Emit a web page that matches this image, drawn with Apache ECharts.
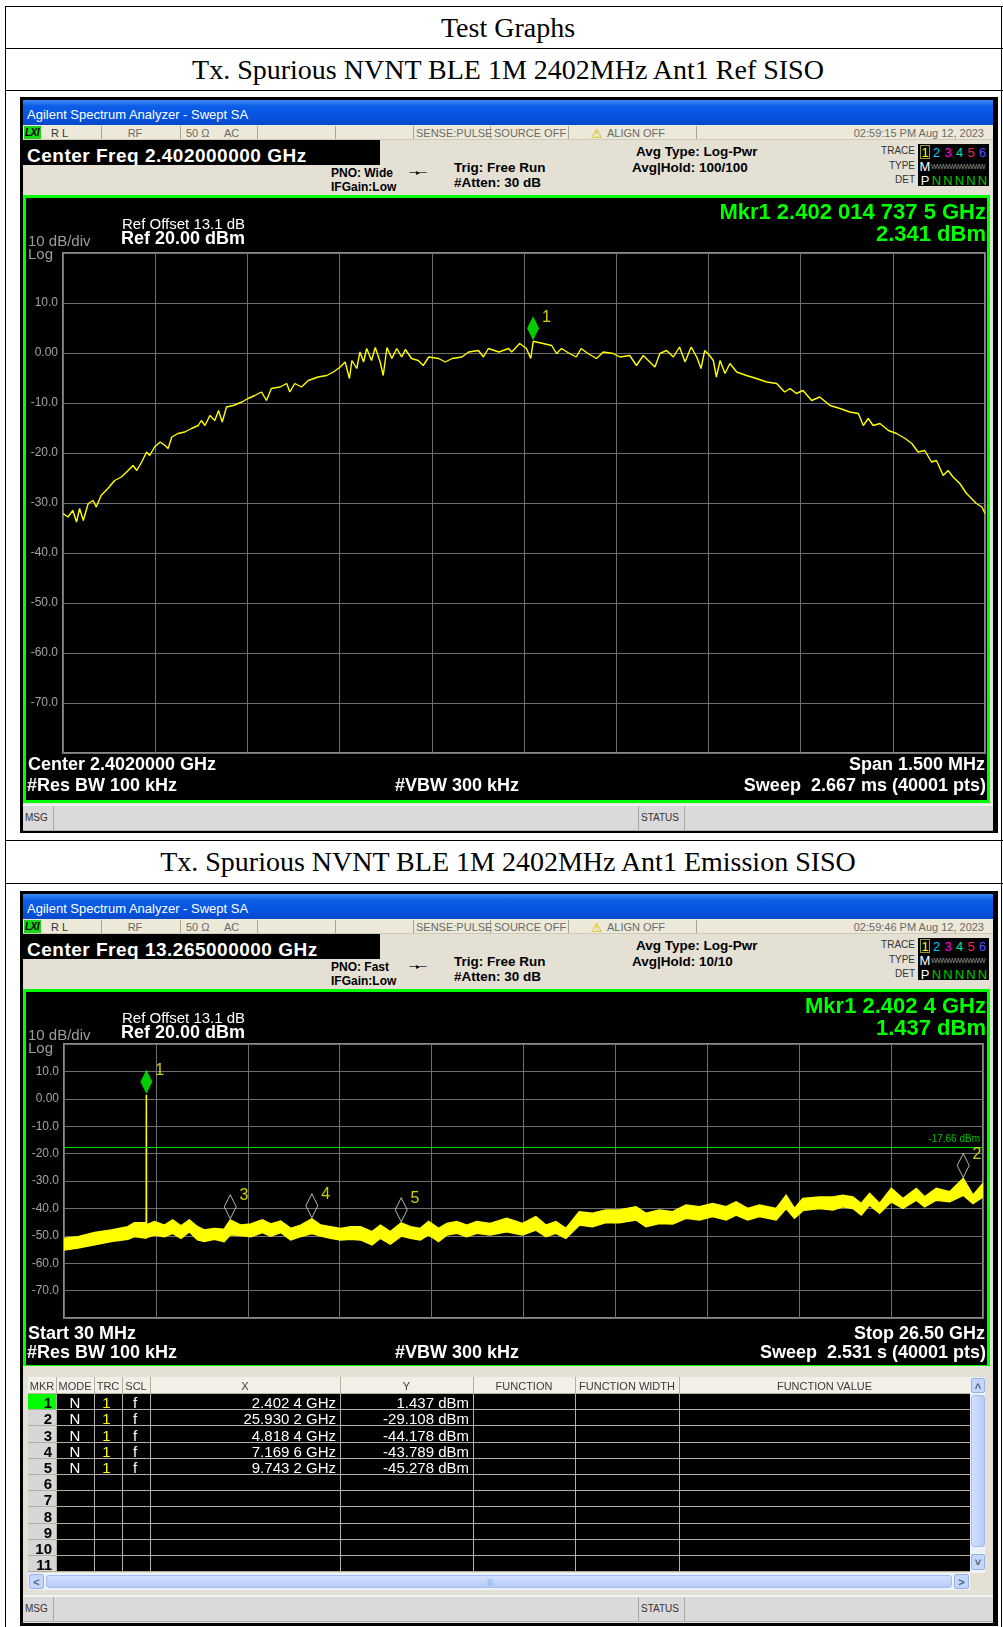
<!DOCTYPE html>
<html>
<head>
<meta charset="utf-8">
<title>Tx. Spurious NVNT BLE 1M 2402MHz Ant1</title>
<script src="https://cdn.jsdelivr.net/npm/echarts@6/dist/echarts.min.js"></script>
<style>
  html, body { margin: 0; padding: 0; background: #fff; }
  #page { position: relative; width: 1003px; height: 1627px; overflow: hidden; font-family: "Liberation Sans", Arial, sans-serif; }
  .b { position: absolute; box-sizing: border-box; }
  .t { position: absolute; white-space: pre; line-height: 1; z-index: 5; }
  .plot { position: absolute; z-index: 2; }
</style>
</head>
<body>
<div id="page">
  <div id="chart1" class="plot" style="left:26px;top:198px;width:961px;height:602px"></div>
  <div id="chart2" class="plot" style="left:26px;top:994px;width:961px;height:371px"></div>
</div>
<script>
// Ref plot: centre 2402 MHz, span 1.5 MHz (freq MHz / level dBm)
var refFreqMHz = [
    2401.250, 2401.258, 2401.266, 2401.272, 2401.277, 2401.283, 2401.291, 2401.299, 2401.304, 2401.312,
    2401.323, 2401.334, 2401.345, 2401.356, 2401.364, 2401.370, 2401.378, 2401.386, 2401.391, 2401.399,
    2401.408, 2401.416, 2401.421, 2401.427, 2401.437, 2401.448, 2401.459, 2401.470, 2401.475, 2401.481,
    2401.489, 2401.497, 2401.503, 2401.509, 2401.516, 2401.527, 2401.541, 2401.551, 2401.562, 2401.573,
    2401.581, 2401.589, 2401.603, 2401.614, 2401.619, 2401.627, 2401.638, 2401.649, 2401.665, 2401.679,
    2401.690, 2401.701, 2401.709, 2401.716, 2401.720, 2401.728, 2401.733, 2401.739, 2401.744, 2401.752,
    2401.758, 2401.766, 2401.771, 2401.777, 2401.785, 2401.793, 2401.801, 2401.807, 2401.817, 2401.828,
    2401.836, 2401.845, 2401.861, 2401.872, 2401.883, 2401.899, 2401.910, 2401.926, 2401.934, 2401.942,
    2401.959, 2401.975, 2401.980, 2401.993, 2402.004, 2402.011, 2402.015, 2402.031, 2402.045, 2402.053,
    2402.061, 2402.074, 2402.085, 2402.093, 2402.104, 2402.118, 2402.129, 2402.145, 2402.156, 2402.172,
    2402.183, 2402.194, 2402.213, 2402.221, 2402.232, 2402.243, 2402.253, 2402.262, 2402.272, 2402.281,
    2402.288, 2402.294, 2402.302, 2402.308, 2402.313, 2402.319, 2402.327, 2402.335, 2402.346, 2402.362,
    2402.378, 2402.395, 2402.411, 2402.424, 2402.433, 2402.443, 2402.454, 2402.468, 2402.481, 2402.498,
    2402.514, 2402.530, 2402.544, 2402.552, 2402.560, 2402.568, 2402.579, 2402.593, 2402.606, 2402.620,
    2402.631, 2402.641, 2402.652, 2402.663, 2402.671, 2402.682, 2402.690, 2402.698, 2402.709, 2402.720,
    2402.728, 2402.736, 2402.745, 2402.750
];
var refLevel = [
    -32.1, -32.8, -31.5, -33.8, -31.1, -33.5, -30.1, -29.5, -30.8, -28.5,
    -27.1, -25.5, -24.8, -23.5, -22.5, -23.5, -21.8, -19.8, -20.5, -18.8,
    -17.8, -18.5, -19.1, -16.8, -16.1, -15.8, -15.1, -14.5, -13.5, -14.5,
    -12.5, -13.5, -11.5, -13.8, -10.8, -10.5, -9.8, -9.1, -8.5, -7.8,
    -9.5, -7.1, -6.8, -6.1, -7.8, -6.1, -6.8, -5.5, -4.8, -4.5,
    -3.8, -2.8, -1.8, -5.1, -1.5, -3.1, 0.2, -1.8, 0.9, -1.5,
    1.1, -1.8, -4.5, 1.1, -1.1, 0.9, -0.8, 0.7, -1.1, -1.5,
    -2.5, -0.8, -1.1, -1.8, -1.1, -0.8, 0.2, 0.5, -0.8, 0.9,
    0.2, 0.9, 0.2, 1.9, 0.9, -1.1, 2.341, 1.9, 1.5, -0.1,
    0.9, -0.1, -0.8, 0.9, -0.1, -1.1, 0.2, -0.1, -0.8, -0.5,
    -2.5, -0.5, -2.8, -0.1, 0.5, -0.8, 1.2, -1.8, 1.2, -0.8,
    -3.1, 0.5, -0.5, -1.5, -4.8, -1.5, -4.1, -2.1, -3.8, -4.5,
    -5.1, -5.8, -6.1, -7.8, -7.1, -8.1, -7.5, -9.5, -8.8, -10.5,
    -11.1, -11.8, -12.1, -14.5, -13.1, -14.5, -14.1, -15.5, -16.1, -17.1,
    -18.1, -19.8, -19.5, -21.8, -21.5, -24.5, -23.5, -24.8, -26.1, -28.1,
    -29.1, -30.1, -30.8, -32.1
];
var refMkrFreqGHz = 2.4020147375;
var refMkrLevel = 2.341;

// Emission plot: 30 MHz - 26.5 GHz, trace drawn as a band (upper / lower edge, dBm)
var emiFreqGHz = [
    0.030, 0.432, 0.911, 1.389, 1.868, 2.059, 2.395, 2.398, 2.4024, 2.407,
    2.634, 2.921, 3.160, 3.400, 3.639, 3.878, 4.070, 4.357, 4.644, 4.818,
    5.123, 5.410, 5.745, 5.984, 6.272, 6.559, 6.846, 7.170, 7.420, 7.708,
    7.995, 8.282, 8.569, 8.904, 9.143, 9.431, 9.743, 10.005, 10.292, 10.531,
    10.819, 11.058, 11.345, 11.632, 11.919, 12.302, 12.781, 13.236, 13.621, 13.909,
    14.197, 14.486, 14.870, 15.255, 15.639, 16.024, 16.504, 16.793, 17.177, 17.562,
    17.946, 18.331, 18.715, 19.100, 19.388, 19.724, 20.061, 20.541, 20.830, 21.070,
    21.310, 21.791, 22.176, 22.464, 22.753, 22.993, 23.233, 23.521, 23.858, 24.194,
    24.579, 24.819, 25.155, 25.540, 25.930, 26.212, 26.500
];
var emiUpper = [
    -50.9, -50.3, -48.8, -47.9, -46.7, -45.2, -45.2, -46.0, 1.437, -46.0,
    -44.8, -46.1, -44.2, -46.4, -44.2, -46.7, -47.9, -47.3, -47.6, -44.2,
    -46.1, -45.7, -44.2, -45.7, -44.6, -47.3, -46.1, -43.8, -46.1, -46.7,
    -47.3, -46.7, -46.7, -48.5, -46.1, -48.5, -45.3, -46.7, -47.3, -44.8,
    -47.3, -45.5, -44.8, -46.1, -44.8, -45.5, -43.6, -45.5, -43.0, -46.1,
    -44.8, -47.3, -41.2, -41.8, -40.6, -40.6, -39.4, -41.8, -40.6, -41.2,
    -38.8, -39.4, -38.2, -39.4, -37.6, -40.0, -38.8, -40.0, -35.2, -40.0,
    -36.4, -35.8, -35.8, -35.2, -35.8, -38.2, -34.5, -38.2, -32.7, -36.4,
    -32.7, -35.8, -32.7, -33.9, -29.1, -35.2, -30.9
];
var emiLower = [
    -55.2, -54.5, -53.3, -52.1, -51.3, -50.3, -50.9, -50.6, -50.6, -50.6,
    -49.7, -50.3, -49.1, -50.9, -48.5, -51.5, -52.1, -51.3, -52.1, -49.6,
    -49.9, -50.3, -48.8, -50.1, -48.8, -51.5, -50.3, -49.2, -50.1, -50.9,
    -51.5, -51.3, -51.5, -53.3, -50.9, -53.0, -50.1, -50.9, -51.5, -49.7,
    -52.1, -49.7, -49.1, -50.3, -49.1, -49.7, -48.5, -49.7, -47.9, -50.3,
    -49.1, -50.9, -46.1, -46.7, -45.2, -45.2, -44.2, -46.7, -45.5, -45.7,
    -43.6, -44.2, -43.0, -44.2, -42.4, -44.2, -43.0, -44.2, -40.0, -43.6,
    -40.8, -40.0, -40.6, -39.4, -40.0, -42.4, -38.8, -41.8, -37.6, -40.0,
    -37.0, -39.4, -37.0, -37.6, -35.2, -38.2, -35.8
];

// marker table of the emission sweep
var mkrFreqGHz = [2.4024, 25.9302, 4.8184, 7.1696, 9.7432];
var mkrLevel = [1.437, -29.108, -44.178, -43.789, -45.278];
var limitLine = -17.66;

// level axis (top and bottom lines have no label)
var levelTicks = [20, 10, 0, -10, -20, -30, -40, -50, -60, -70, -80];
var levelTickLabels = ['', '10.0', '0.00', '-10.0', '-20.0', '-30.0', '-40.0', '-50.0', '-60.0', '-70.0', ''];

var page = document.getElementById('page');

function box(x, y, w, h, css) {
    var d = document.createElement('div');
    d.className = 'b';
    d.style.cssText = 'left:' + x + 'px;top:' + y + 'px;width:' + w + 'px;height:' + h + 'px;' + (css || '');
    page.appendChild(d);
    return d;
}

// y is the vertical centre of the text
function txt(s, x, y, css, align) {
    var d = document.createElement('div');
    d.className = 't';
    d.textContent = s;
    d.style.cssText = 'left:' + x + 'px;top:' + y + 'px;' + (css || '');
    var tx = align === 'r' ? '-100%' : (align === 'c' ? '-50%' : '0');
    d.style.transform = 'translate(' + tx + ',-50%)';
    page.appendChild(d);
    return d;
}

function fmtGHz(f) {
    var s = f.toFixed(4);
    return s.slice(0, -1) + ' ' + s.slice(-1) + ' GHz';
}

function fmtLongGHz(f) {
    var s = f.toFixed(10);
    return s.slice(0, 5) + ' ' + s.slice(5, 8) + ' ' + s.slice(8, 11) + ' ' + s.slice(11) + ' GHz';
}

// ---- outer document table ----
function drawTable() {
    [6, 48, 90, 840, 883].forEach(function (y) {
        box(5, y, 998, 1.4, 'background:#000');
    });
    box(5, 6, 1.4, 1621, 'background:#000');
    box(1001, 6, 1.4, 1621, 'background:#000');
    var hd = 'font-family:"Liberation Serif","Times New Roman",serif;font-size:28px;color:#000';
    txt('Test Graphs', 508, 28, hd, 'c');
    txt('Tx. Spurious NVNT BLE 1M 2402MHz Ant1 Ref SISO', 508, 70, hd, 'c');
    txt('Tx. Spurious NVNT BLE 1M 2402MHz Ant1 Emission SISO', 508, 862, hd, 'c');
}

// ---- analyzer window chrome ----
function analyzer(top, bottom, c) {
    box(20, top, 978, bottom - top, 'background:#000');
    box(23, top + 3, 970, bottom - top - 6, 'background:#e4e1d4');
    // title bar
    box(23, top + 3, 970, 25, 'background:linear-gradient(#3d88f3,#0c5de8 25%,#0553e0 70%,#0849c9)');
    txt('Agilent Spectrum Analyzer - Swept SA', 27, top + 17, 'color:#fff;font-size:13px');

    // status row
    var sy = top + 35.5;
    var grey = 'font-size:11px;color:#6a6a6a';
    box(23, top + 28, 970, 15, 'background:#ece9d8;border-bottom:1px solid #cfcbb8');
    box(24, top + 29, 17, 13, 'background:#19d419');
    txt('LXI', 25, sy, 'font-size:10px;font-weight:bold;font-style:italic;color:#000;letter-spacing:-0.5px');
    txt('R L', 51, sy, 'font-size:11px;color:#333');
    [101, 180, 257, 335, 413, 490, 568, 696].forEach(function (x) {
        box(x, top + 29, 1, 13, 'background:#a8a596');
    });
    txt('RF', 135, sy, grey, 'c');
    txt('50 \u03a9', 186, sy, grey);
    txt('AC', 224, sy, grey);
    txt('SENSE:PULSE', 416, sy, grey);
    txt('SOURCE OFF', 494, sy, grey);
    txt('\u26a0', 591, sy, 'font-size:13px;color:#d9b800;font-family:"DejaVu Sans"');
    txt('ALIGN OFF', 607, sy, grey);
    txt(c.time, 984, sy, grey, 'r');

    // centre frequency + settings
    box(23, top + 43, 357, 25, 'background:#000');
    txt('Center Freq ' + c.cf, 27, top + 58, 'color:#fff;font-size:19px;font-weight:bold;letter-spacing:0.5px');
    var bold = 'color:#000;font-weight:bold;';
    txt(c.pno, 331, top + 76, bold + 'font-size:12px');
    txt('IFGain:Low', 331, top + 90, bold + 'font-size:12px');
    txt('\u2014\u25b8\u2014', 409, top + 76, 'font-size:8px;color:#000;font-family:"DejaVu Sans";letter-spacing:-1px');
    txt('Trig: Free Run', 454, top + 71, bold + 'font-size:13.5px');
    txt('#Atten: 30 dB', 454, top + 86, bold + 'font-size:13.5px');
    txt('Avg Type: Log-Pwr', 636, top + 55, bold + 'font-size:13.5px');
    txt(c.hold, 632, top + 71, bold + 'font-size:13.5px');

    // trace / type / det block
    var small = 'font-size:10px;color:#333';
    txt('TRACE', 915, top + 54, small, 'r');
    txt('TYPE', 915, top + 69, small, 'r');
    txt('DET', 915, top + 83, small, 'r');
    box(918, top + 47, 71, 42, 'background:#000');
    box(920, top + 48, 10, 14, 'border:1px solid #9a9a30');
    var tcol = ['#ffff00', '#00c8ff', '#ff00ff', '#00e0a0', '#ff2050', '#5050ff'];
    var tx = [925, 936.5, 948, 959.5, 971, 982.5];
    tcol.forEach(function (col, i) {
        txt(String(i + 1), tx[i], top + 55, 'font-size:13px;color:' + col, 'c');
    });
    txt('M', 925, top + 69, 'font-size:13px;color:#fff', 'c');
    txt('WWWWWWWWW', 931, top + 69, 'font-size:7px;color:#9a9a9a;letter-spacing:-0.6px');
    txt('P', 925, top + 83, 'font-size:13px;color:#fff', 'c');
    for (var k = 1; k < 6; k++) {
        txt('N', tx[k], top + 83, 'font-size:13px;color:#00c800', 'c');
    }

    // plot frame
    box(23, top + 98, 967, c.plotH, 'border:3px solid #00ff00;background:#000');
    txt('Ref Offset 13.1 dB', 122, top + 126, 'color:#fff;font-size:15px');
    txt('Ref 20.00 dBm', 121, top + 141, 'color:#fff;font-size:18px;font-weight:bold');
    txt('10 dB/div', 28, top + 143, 'color:#9c9c9c;font-size:15px');
    txt('Log', 28, top + 156, 'color:#9c9c9c;font-size:15px');
    var mk = 'color:#00ff00;font-size:22px;font-weight:bold';
    txt('Mkr1 ' + c.mkrF, 986, top + 115, mk, 'r');
    txt(c.mkrL, 986, top + 137, mk, 'r');

    // bottom annotation of the plot
    var w = 'color:#fff;font-size:18px;font-weight:bold';
    txt(c.bl1, 28, c.by1, w);
    txt('#Res BW 100 kHz', 27, c.by2, w);
    txt('#VBW 300 kHz', 395, c.by2, w);
    txt(c.br1, 985, c.by1, w, 'r');
    txt(c.br2, 986, c.by2, w, 'r');

    // message bar
    var mt = c.msgTop;
    box(23, mt, 970, 27, 'background:#dadada;border-top:2px solid #f4f4f4;border-bottom:1px solid #b0b0b0');
    txt('MSG', 25, mt + 14, 'font-size:10px;color:#333');
    [53, 638, 684].forEach(function (x) {
        box(x, mt + 2, 1, 24, 'background:#a8a8a8');
    });
    txt('STATUS', 641, mt + 14, 'font-size:10px;color:#333');
}

// ---- marker table under the emission plot ----
function markerTable() {
    var tTop = 1377, hdrH = 17, rowH = 16.2;
    var cols = [28, 56, 94, 122, 150, 340, 473, 575, 679, 970];
    box(28, tTop, 942, hdrH, 'background:#f2f0e6;border-bottom:1px solid #b8b4a0');
    var hc = 'font-size:11px;color:#3a3a3a';
    var names = ['MKR', 'MODE', 'TRC', 'SCL', 'X', 'Y', 'FUNCTION', 'FUNCTION WIDTH', 'FUNCTION VALUE'];
    names.forEach(function (n, i) {
        txt(n, (cols[i] + cols[i + 1]) / 2, tTop + 8.5, hc, 'c');
    });
    var rowTop = tTop + hdrH;
    var val = 'font-size:15px;color:#fff';
    for (var i = 0; i < 11; i++) {
        var ry = rowTop + i * rowH;
        var cy = ry + rowH / 2;
        box(28, ry, 942, rowH, 'background:#000;border-bottom:1px solid #b4b0a0');
        box(28, ry, 28, rowH, 'background:' + (i === 0 ? '#00ff00' : '#d6d6d6') + ';border-bottom:1px solid #b4b0a0');
        txt(String(i + 1), 52, cy, 'font-size:15px;font-weight:bold;color:#000', 'r');
        if (i < mkrFreqGHz.length) {
            txt('N', 75, cy, val, 'c');
            txt('1', 106.5, cy, 'font-size:15px;color:#ffff00', 'c');
            txt('f', 135, cy, val, 'c');
            txt(fmtGHz(mkrFreqGHz[i]), 336, cy, val, 'r');
            txt(mkrLevel[i].toFixed(3) + ' dBm', 469, cy, val, 'r');
        }
    }
    cols.slice(1, -1).forEach(function (x) {
        box(x, tTop, 1, hdrH + 11 * rowH, 'background:#b4b0a0');
    });

    // scroll bars
    var btn = 'background:#c5d6fb;border:1px solid #98b2e8;border-radius:2px';
    var arr = 'font-size:11px;font-weight:bold;color:#4d6185';
    box(28, 1573, 942, 17, 'background:#eef2fd');
    box(29, 1574, 15, 15, btn);
    txt('<', 36.5, 1581.5, arr, 'c');
    box(46, 1575, 906, 13, 'background:linear-gradient(#d3e0fd,#b7cbf6);border:1px solid #a4bdf0;border-radius:3px');
    txt('|||', 490, 1581.5, 'font-size:8px;color:#8aa6e0', 'c');
    box(954, 1574, 15, 15, btn);
    txt('>', 961.5, 1581.5, arr, 'c');
    box(970, 1377, 15, 196, 'background:#eef2fd');
    box(971, 1378, 14, 15, btn);
    txt('\u02c4', 978, 1386, arr, 'c');
    box(971, 1395, 14, 152, 'background:linear-gradient(90deg,#d3e0fd,#b7cbf6);border:1px solid #a4bdf0;border-radius:3px');
    box(971, 1554, 14, 16, btn);
    txt('\u02c5', 978, 1562, arr, 'c');
}

function levelAxis() {
    return {
        type: 'value', min: -80, max: 20, interval: 10,
        axisLine: { show: false }, axisTick: { show: false },
        axisLabel: {
            color: '#a3a3a3', fontSize: 12, margin: 5, fontFamily: 'Liberation Sans',
            formatter: function (v) {
                var k = levelTicks.indexOf(Math.round(v));
                return k < 0 ? '' : levelTickLabels[k];
            }
        },
        splitLine: { lineStyle: { color: '#6f6f6f', width: 1 } }
    };
}

// 10 horizontal divisions of the screen, only for the graticule
function divAxis() {
    return {
        type: 'value', min: 0, max: 10, interval: 1,
        axisLine: { show: false }, axisTick: { show: false }, axisLabel: { show: false },
        splitLine: { show: true, lineStyle: { color: '#6f6f6f', width: 1 } }
    };
}

function initCharts() {
    var refChart = echarts.init(document.getElementById('chart1'));
    refChart.setOption({
        animation: false,
        backgroundColor: '#000',
        grid: { left: 37, top: 55, width: 922, height: 500, show: true, borderColor: '#8a8a8a', borderWidth: 2, outerBoundsMode: 'none' },
        xAxis: [
            { type: 'value', min: 2401.25, max: 2402.75, show: false },
            divAxis()
        ],
        yAxis: levelAxis(),
        series: [{
            type: 'line',
            xAxisIndex: 0,
            data: refFreqMHz.map(function (f, i) { return [f, refLevel[i]]; }),
            showSymbol: false,
            lineStyle: { color: '#ffff00', width: 1.4 },
            silent: true
        }, {
            type: 'scatter',
            xAxisIndex: 0,
            data: [[refMkrFreqGHz * 1000, refMkrLevel]],
            symbol: 'diamond',
            symbolSize: [12, 24],
            symbolOffset: [0, -13],
            itemStyle: { color: '#00ff00' },
            label: { show: true, position: 'right', distance: 3, offset: [0, -11], formatter: '1', color: '#ffff00', fontSize: 16 },
            z: 5
        }]
    });

    var emiChart = echarts.init(document.getElementById('chart2'));
    emiChart.setOption({
        animation: false,
        backgroundColor: '#000',
        grid: { left: 38, top: 50, width: 919, height: 274, show: true, borderColor: '#8a8a8a', borderWidth: 2, outerBoundsMode: 'none' },
        xAxis: [
            { type: 'value', min: 0.03, max: 26.5, show: false },
            divAxis()
        ],
        yAxis: levelAxis(),
        series: [{
            // trace band: upper edge forward, lower edge back, as one polygon
            type: 'custom',
            xAxisIndex: 0,
            clip: true,
            silent: true,
            data: emiFreqGHz.map(function (f, i) { return [f, emiUpper[i], emiLower[i]]; }),
            encode: { x: 0, y: [1, 2] },
            renderItem: function (params, api) {
                if (params.dataIndex !== 0) {
                    return null;
                }
                var pts = [], i;
                for (i = 0; i < emiFreqGHz.length; i++) {
                    pts.push(api.coord([emiFreqGHz[i], emiUpper[i]]));
                }
                for (i = emiFreqGHz.length - 1; i >= 0; i--) {
                    pts.push(api.coord([emiFreqGHz[i], emiLower[i]]));
                }
                return {
                    type: 'polygon',
                    shape: { points: pts },
                    style: { fill: '#ffff00', stroke: '#ffff00', lineWidth: 1.5, lineJoin: 'miter' }
                };
            }
        }, {
            type: 'scatter',
            xAxisIndex: 0,
            data: mkrFreqGHz.map(function (f, i) {
                return {
                    value: [f, mkrLevel[i]],
                    itemStyle: i === 0 ? { color: '#00ff00' } : { color: 'rgba(0,0,0,0)', borderColor: '#e0e0e0', borderWidth: 1 },
                    label: { formatter: String(i + 1) }
                };
            }),
            symbol: 'diamond',
            symbolSize: [12, 24],
            symbolOffset: [0, -13],
            label: { show: true, position: 'right', distance: 3, offset: [0, -11], color: '#ffff00', fontSize: 16 },
            markLine: {
                silent: true,
                symbol: ['none', 'none'],
                data: [{ yAxis: limitLine }],
                lineStyle: { color: '#00e000', width: 1, type: 'solid' },
                label: { position: 'insideEndTop', distance: 3, formatter: limitLine.toFixed(2) + ' dBm', color: '#00c000', fontSize: 10 }
            },
            z: 5
        }]
    });
}

drawTable();
analyzer(97, 833, {
    cf: '2.402000000 GHz', pno: 'PNO: Wide', hold: 'Avg|Hold: 100/100',
    time: '02:59:15 PM Aug 12, 2023',
    mkrF: fmtLongGHz(refMkrFreqGHz), mkrL: refMkrLevel.toFixed(3) + ' dBm',
    plotH: 608,
    bl1: 'Center 2.4020000 GHz', br1: 'Span 1.500 MHz', br2: 'Sweep  2.667 ms (40001 pts)',
    by1: 764, by2: 785, msgTop: 804
});
analyzer(891, 1626, {
    cf: '13.265000000 GHz', pno: 'PNO: Fast', hold: 'Avg|Hold: 10/10',
    time: '02:59:46 PM Aug 12, 2023',
    mkrF: fmtGHz(mkrFreqGHz[0]), mkrL: mkrLevel[0].toFixed(3) + ' dBm',
    plotH: 377,
    bl1: 'Start 30 MHz', br1: 'Stop 26.50 GHz', br2: 'Sweep  2.531 s (40001 pts)',
    by1: 1333, by2: 1352, msgTop: 1595
});
markerTable();
initCharts();
</script>
</body>
</html>
